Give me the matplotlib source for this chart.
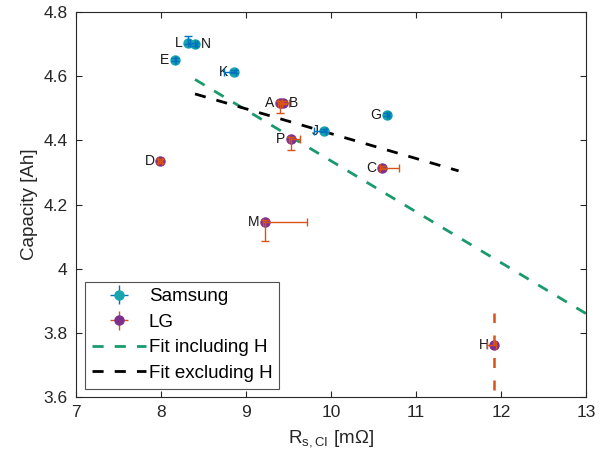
import matplotlib
matplotlib.use("Agg")
import matplotlib.pyplot as plt
import numpy as np

plt.rcParams['font.family'] = ['Liberation Sans', 'DejaVu Sans']
plt.rcParams['mathtext.fontset'] = 'custom'
plt.rcParams['mathtext.rm'] = 'Liberation Sans'

# Samsung cells
sam_labels = ['L', 'N', 'E', 'K', 'G', 'J']
sam_x = [8.32, 8.40, 8.16, 8.86, 10.66, 9.92]
sam_y = [4.705, 4.700, 4.652, 4.614, 4.480, 4.430]
sam_xerr_lo = [0.0, 0.0, 0.0, 0.12, 0.0, 0.12]
sam_xerr_hi = [0.02, 0.02, 0.02, 0.02, 0.02, 0.02]
sam_yerr_lo = [0.005, 0.005, 0.005, 0.005, 0.005, 0.005]
sam_yerr_hi = [0.02, 0.005, 0.005, 0.005, 0.005, 0.005]

# LG cells
lg_labels = ['A', 'B', 'P', 'D', 'C', 'M', 'H']
lg_x = [9.40, 9.44, 9.53, 7.99, 10.60, 9.22, 11.92]
lg_y = [4.517, 4.517, 4.405, 4.336, 4.315, 4.146, 3.762]
lg_xerr_lo = [0.02, 0.02, 0.02, 0.02, 0.02, 0.02, 0.08]
lg_xerr_hi = [0.02, 0.06, 0.1, 0.02, 0.20, 0.50, 0.02]
lg_yerr_lo = [0.03, 0.005, 0.035, 0.005, 0.005, 0.06, 0.14]
lg_yerr_hi = [0.005, 0.005, 0.005, 0.005, 0.005, 0.005, 0.10]

# label side: 'l' = left, 'r' = right
sam_side = ['l', 'r', 'l', 'l', 'l', 'l']
lg_side = ['l', 'r', 'l', 'l', 'l', 'l', 'l']

# fit lines
fit_inc_x = [8.4, 13.0]
fit_inc_y = [4.59, 3.86]
fit_exc_x = [8.4, 11.5]
fit_exc_y = [4.545, 4.305]

fig = plt.figure(figsize=(6.08, 4.66), dpi=100)
ax = fig.add_axes([0.125, 0.148, 0.839, 0.826])

blue = '#0072BD'
teal = '#17A5AE'
orange = '#D95319'
purple = '#7E2F8E'
green = '#1B9A6C'
ms = 6.5

# markers first
ax.plot(sam_x, sam_y, 'o', mfc=teal, mec=teal, ms=ms, zorder=3)
ax.plot(lg_x, lg_y, 'o', mfc=purple, mec=purple, ms=ms, zorder=3)

# error bars on top
ax.errorbar(sam_x, sam_y, xerr=[sam_xerr_lo, sam_xerr_hi], yerr=[sam_yerr_lo, sam_yerr_hi],
            fmt='none', ecolor=blue, elinewidth=1.0, capsize=3, capthick=1.0, zorder=4)
n = len(lg_x) - 1
ax.errorbar(lg_x[:n], lg_y[:n], xerr=[lg_xerr_lo[:n], lg_xerr_hi[:n]],
            yerr=[lg_yerr_lo[:n], lg_yerr_hi[:n]],
            fmt='none', ecolor=orange, elinewidth=1.0, capsize=3, capthick=1.0, zorder=4)
ax.errorbar(lg_x[n:], lg_y[n:], xerr=[lg_xerr_lo[n:], lg_xerr_hi[n:]],
            fmt='none', ecolor=orange, elinewidth=1.0, capsize=3, capthick=1.0, zorder=4)
ax.plot([lg_x[n]] * 2, [lg_y[n] - lg_yerr_lo[n], lg_y[n] + lg_yerr_hi[n]], color=orange,
        lw=1.8, ls=(0, (4, 5)), zorder=4)

# legend handles
h1 = ax.errorbar([], [], xerr=[], yerr=[], fmt='o', color=blue, mfc=teal, mec=teal, ms=ms,
                 ecolor=blue, elinewidth=1.0, capsize=3, label='Samsung')
h2 = ax.errorbar([], [], xerr=[], yerr=[], fmt='o', color=orange, mfc=purple, mec=purple, ms=ms,
                 ecolor=orange, elinewidth=1.0, capsize=3, label='LG')

l3, = ax.plot(fit_inc_x, fit_inc_y, ls=(0, (4, 4)), color=green, lw=2, label='Fit including H')
l4, = ax.plot(fit_exc_x, fit_exc_y, ls=(0, (4, 4)), color='black', lw=2, label='Fit excluding H')

for lab, x, y, s in zip(sam_labels + lg_labels, sam_x + lg_x, sam_y + lg_y, sam_side + lg_side):
    if s == 'l':
        ax.annotate(lab, (x, y), xytext=(-4, 0), textcoords='offset points', ha='right',
                    va='center', fontsize=10, color='#1a1a1a', zorder=2)
    else:
        ax.annotate(lab, (x, y), xytext=(4, 0), textcoords='offset points', ha='left',
                    va='center', fontsize=10, color='#1a1a1a', zorder=2)

ax.set_xlim(7, 13)
ax.set_ylim(3.6, 4.8)
ax.set_xticks([7, 8, 9, 10, 11, 12, 13])
ax.set_yticks([3.6, 3.8, 4.0, 4.2, 4.4, 4.6, 4.8])
ax.set_yticklabels(['3.6', '3.8', '4', '4.2', '4.4', '4.6', '4.8'])
ax.tick_params(direction='in', length=4, labelsize=12.5, colors='#262626',
               top=True, right=True, pad=6)
for sp in ax.spines.values():
    sp.set_color('#262626')
    sp.set_linewidth(0.8)
ax.set_xlabel('R$_{\\mathregular{s,CI}}$ [mΩ]', fontsize=13.5, color='#262626', labelpad=6)
ax.set_ylabel('Capacity [Ah]', fontsize=13.5, color='#262626')

leg = ax.legend(handles=[h1, h2, l3, l4], loc='lower left', fontsize=13.5, frameon=True,
                fancybox=False, edgecolor='#262626', handlelength=2.9, borderpad=0.35,
                labelspacing=0.45, handletextpad=0.15, borderaxespad=0,
                bbox_to_anchor=(0.018, 0.022))
leg.get_frame().set_linewidth(0.8)

fig.savefig('out.png', dpi=100)
